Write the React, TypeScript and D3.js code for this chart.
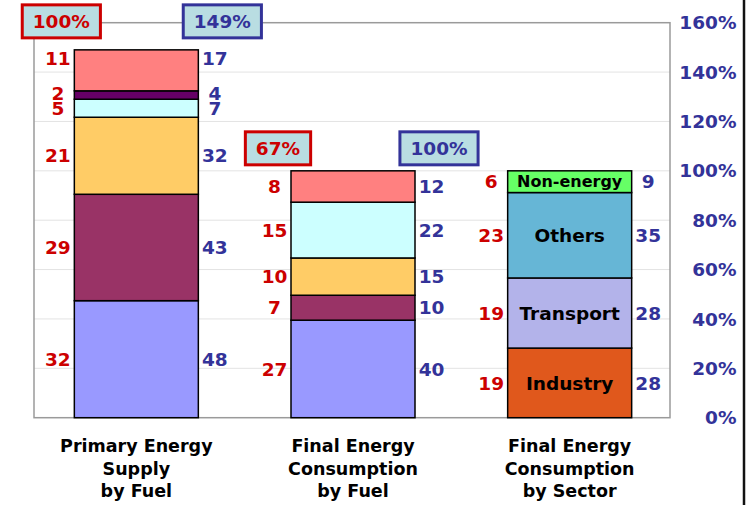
import React from "react";
import * as d3 from "d3";

// ---- data ----
const categoryLines: string[][] = [
  ["Primary Energy", "Supply", "by Fuel"],
  ["Final Energy", "Consumption", "by Fuel"],
  ["Final Energy", "Consumption", "by Sector"],
];
const fuelKeys = ["f1", "f2", "f3", "f4", "f5", "f6"];
// segment sizes in % of final energy consumption (bottom -> top)
const primaryShares = [47.4, 43.1, 31.2, 7.3, 3.4, 16.6];
const primaryRed = [32, 29, 21, 5, 2, 11];
const primaryBlue = [48, 43, 32, 7, 4, 17];
const finalFuelKeys = ["f1", "f2", "f3", "f4", "f6"];
const finalFuelShares = [39.5, 10.1, 15.1, 22.6, 12.7];
const finalFuelRed = [27, 7, 10, 15, 8];
const finalFuelBlue = [40, 10, 15, 22, 12];
const sectorNames = ["Industry", "Transport", "Others", "Non-energy"];
const sectorShares = [28.2, 28.4, 34.6, 8.8];
const sectorRed = [19, 19, 23, 6];
const sectorBlue = [28, 28, 35, 9];
const totalsRed = ["100%", "67%"];
const totalsBlue = ["149%", "100%"];
const axisTicks = [0, 20, 40, 60, 80, 100, 120, 140, 160];

// ---- styles ----
const fuelColors: Record<string, string> = {
  f1: "#9999ff",
  f2: "#993366",
  f3: "#ffcc66",
  f4: "#ccffff",
  f5: "#660066",
  f6: "#ff8080",
};
const sectorColors = ["#e0581c", "#b3b3ea", "#66b6d6", "#66ff66"];
const RED = "#cc0000";
const BLUE = "#333399";
const FONT = "'DejaVu Sans', Verdana, sans-serif";
const NUM_SIZE = 18.5;

type Seg = { y0: number; y1: number; color: string; red: number; blue: number; name?: string };

function stack(shares: number[], colors: string[], red: number[], blue: number[], names?: string[]): Seg[] {
  let acc = 0;
  return shares.map((s, i) => {
    const seg = { y0: acc, y1: acc + s, color: colors[i], red: red[i], blue: blue[i], name: names ? names[i] : undefined };
    acc += s;
    return seg;
  });
}

export default function App() {
  const W = 749, H = 505;
  const left = 34, right = 670, top = 22.7, bottom = 417.7;
  const y = d3.scaleLinear().domain([0, 160]).range([bottom, top]);
  const x = d3.scaleBand<number>().domain([0, 1, 2]).range([28, 678]).padding(0);
  const barW = 124;

  const bars: Seg[][] = [
    stack(primaryShares, fuelKeys.map((k) => fuelColors[k]), primaryRed, primaryBlue),
    stack(finalFuelShares, finalFuelKeys.map((k) => fuelColors[k]), finalFuelRed, finalFuelBlue),
    stack(sectorShares, sectorColors, sectorRed, sectorBlue, sectorNames),
  ];

  const numStyle = { fontFamily: FONT, fontWeight: 700, fontSize: NUM_SIZE } as React.CSSProperties;
  const boxW = (t: string) => (t.length - 1) * 0.696 * NUM_SIZE + 1.002 * NUM_SIZE + 21;
  const boxGap = [12, 6];

  return (
    <svg width={W} height={H} style={{ position: "absolute", left: 0, top: 0, background: "#fff" }}>
      {/* gridlines */}
      {axisTicks.slice(1, -1).map((t) => (
        <line key={t} x1={left} x2={right} y1={y(t)} y2={y(t)} stroke="#e3e3e3" strokeWidth={1} />
      ))}
      {/* frame */}
      <rect x={left} y={top} width={right - left} height={bottom - top} fill="none" stroke="#9a9a9a" strokeWidth={1.5} />

      {/* bars */}
      {bars.map((segs, bi) => {
        const cx = (x(bi) as number) + x.bandwidth() / 2;
        const bx = cx - barW / 2;
        return (
          <g key={bi}>
            {segs.map((s, si) => (
              <rect key={si} x={bx} y={y(s.y1)} width={barW} height={y(s.y0) - y(s.y1)} fill={s.color} stroke="#000" strokeWidth={1.5} />
            ))}
            {segs.map((s, si) => {
              const isTopPrimary = bi === 0 && si === segs.length - 1;
              const isThin = bi === 0 && si === segs.length - 2;
              const cy = (y(s.y0) + y(s.y1)) / 2 + (isTopPrimary ? -12 : isThin ? -2 : 0);
              return (
                <g key={"l" + si}>
                  <text x={bx - 16.5} y={cy} dy="0.36em" textAnchor="middle" fill={RED} style={numStyle}>{s.red}</text>
                  <text x={bx + barW + 16.5} y={cy} dy="0.36em" textAnchor="middle" fill={BLUE} style={numStyle}>{s.blue}</text>
                  {s.name && (
                    <text x={cx} y={(y(s.y0) + y(s.y1)) / 2} dy="0.36em" textAnchor="middle" fill="#000"
                      style={{ fontFamily: FONT, fontWeight: 700, fontSize: s.name.length > 9 ? 16 : 18.5 }}>{s.name}</text>
                  )}
                </g>
              );
            })}
            {/* total boxes */}
            {bi < totalsRed.length && (() => {
              const topY = y(segs[segs.length - 1].y1);
              const by = topY - boxGap[bi] - 33;
              const rw = boxW(totalsRed[bi]);
              const bw = boxW(totalsBlue[bi]);
              const rcx = bx - 13;
              const bcx = bx + barW + 24;
              return (
                <g>
                  <rect x={rcx - rw / 2} y={by} width={rw} height={33} fill="#b9dde2" stroke={RED} strokeWidth={3} />
                  <text x={rcx} y={by + 16.5} dy="0.36em" textAnchor="middle" fill={RED} style={numStyle}>{totalsRed[bi]}</text>
                  <rect x={bcx - bw / 2} y={by} width={bw} height={33} fill="#b9dde2" stroke={BLUE} strokeWidth={3} />
                  <text x={bcx} y={by + 16.5} dy="0.36em" textAnchor="middle" fill={BLUE} style={numStyle}>{totalsBlue[bi]}</text>
                </g>
              );
            })()}
            {/* category labels */}
            <text x={cx} y={446} textAnchor="middle" fill="#000" style={{ fontFamily: FONT, fontWeight: 700, fontSize: 17.5 }}>
              {categoryLines[bi].map((ln, li) => (
                <tspan key={li} x={cx} y={446 + li * 22.5} dy="0.36em">{ln}</tspan>
              ))}
            </text>
          </g>
        );
      })}

      {/* right axis */}
      {axisTicks.map((t) => (
        <text key={t} x={736.5} y={y(t)} dy="0.36em" textAnchor="end" fill={BLUE} style={numStyle}>{t}%</text>
      ))}
      <line x1={744} x2={744} y1={0} y2={H} stroke="#111" strokeWidth={2.5} />
    </svg>
  );
}
